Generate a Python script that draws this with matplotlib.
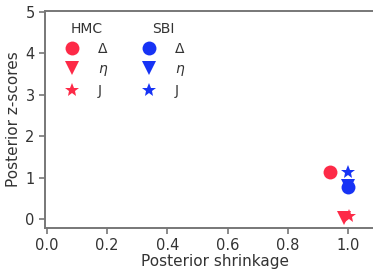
import matplotlib
matplotlib.use("Agg")
import matplotlib.pyplot as plt
from matplotlib.lines import Line2D

methods = ["HMC", "SBI"]
params = ["Δ", r"$\eta$", "J"]
markers = ["o", "v", "*"]
colors = {"HMC": "#fd2a47", "SBI": "#1733f5"}
shrinkage = {"HMC": [0.94, 0.987, 1.003], "SBI": [1.0, 1.0, 1.0]}
zscores = {"HMC": [1.13, 0.02, 0.08], "SBI": [0.77, 0.79, 1.13]}
xticks = [0.0, 0.2, 0.4, 0.6, 0.8, 1.0]
yticks = [0, 1, 2, 3, 4, 5]

plt.rcParams['font.family'] = ['DejaVu Sans']
fig = plt.figure(figsize=(3.73, 2.73), dpi=100)
ax = fig.add_axes([45/373, 45/273, (385-45)/373, (228-11)/273])

text_c = "#333333"
spine_c = "#777777"
msizes = {"o": 10, "v": 10, "*": 10}

for m in methods:
    for i, p in enumerate(params):
        ax.plot(shrinkage[m][i], zscores[m][i], linestyle="none", marker=markers[i],
                markersize=msizes[markers[i]], color=colors[m], markeredgewidth=0)

ppu = 301.0
ax.set_xlim(-2/ppu, (385-47)/ppu)
ppy = 207/5.0
ax.set_ylim(-(228-219)/ppy, 5 + 1/ppy)
ax.set_xticks(xticks)
ax.set_yticks(yticks)
ax.set_xticklabels([f"{t:.1f}" for t in xticks])
ax.set_xlabel("Posterior shrinkage", fontsize=11, color=text_c, labelpad=0.5)
ax.set_ylabel("Posterior z-scores", fontsize=11, color=text_c, labelpad=3)
ax.tick_params(axis="both", labelsize=10.5, colors=text_c, length=4, width=1.2, color=spine_c, direction="out")
for s in ["left", "bottom", "top", "right"]:
    ax.spines[s].set_color(spine_c)
    ax.spines[s].set_linewidth(1.4)

def make_legend(m, x):
    handles = [Line2D([], [], linestyle="none", marker=markers[i], markersize=msizes[markers[i]],
                      color=colors[m], markeredgewidth=0) for i in range(3)]
    leg = ax.legend(handles, params, title=m, frameon=False, fontsize=10,
                    title_fontsize=10, loc="upper left", bbox_to_anchor=(x, 0.973),
                    labelspacing=0.42, handlelength=1.0, handletextpad=1.4, borderaxespad=0)
    for t in leg.get_texts():
        t.set_color(text_c)
    leg.get_title().set_color(text_c)
    return leg

l1 = make_legend("HMC", 0.042)
ax.add_artist(l1)
l2 = make_legend("SBI", 0.268)

fig.savefig("out.png", dpi=100)
